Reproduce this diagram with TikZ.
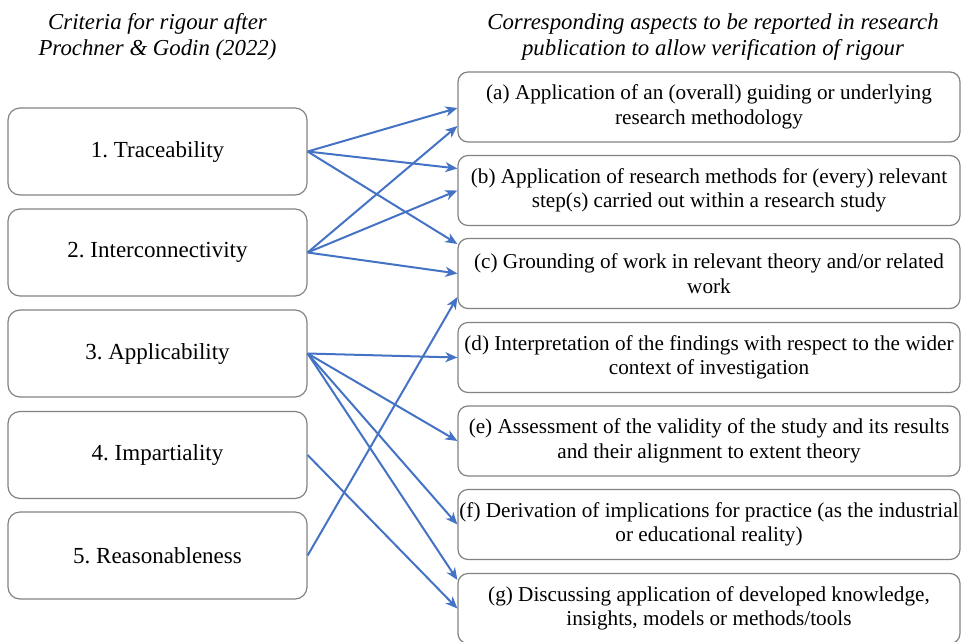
\documentclass[tikz,border=0pt]{standalone}
\usepackage{fontspec}
\setmainfont{Liberation Serif}
\definecolor{boxgray}{RGB}{130, 130, 130}
\definecolor{linkblue}{RGB}{68, 114, 196}
\usetikzlibrary{arrows.meta}

\begin{document}
\frenchspacing
\begin{tikzpicture}[x=1pt, y=-1pt,
  criterion/.style={draw=boxgray, line width=1.2pt, rounded corners=12pt, minimum width=299pt, minimum height=87pt, inner sep=0pt, font=\fontsize{23}{26}\selectfont},
  aspect/.style={draw=boxgray, line width=1.2pt, rounded corners=10pt, minimum width=502pt, minimum height=70pt, inner sep=0pt, align=center, font=\fontsize{21.2}{24.5}\selectfont},
  heading/.style={anchor=north, inner sep=0pt, align=center, font=\fontsize{22.8}{26}\selectfont\itshape},
  link/.style={-{Stealth[length=12pt, width=10pt, inset=3.5pt]}, line width=2pt, linkblue},
]
  \useasboundingbox (0,0) rectangle (962,641);

  % Headings
  \node[heading] (lhead) at (157.5, 13) {Criteria for rigour after\\Prochner \& Godin (2022)};
  \node[heading] (rhead) at (713, 13) {Corresponding aspects to be reported in research\\publication to allow verification of rigour};

  % Criteria
  \node[criterion] (t1) at (157.5, 151.5) {1. Traceability};
  \node[criterion] (t2) at (157.5, 252.5) {2. Interconnectivity};
  \node[criterion] (t3) at (157.5, 353.5) {3. Applicability};
  \node[criterion] (t4) at (157.5, 455) {4. Impartiality};
  \node[criterion] (t5) at (157.5, 555.5) {5. Reasonableness};

  % Aspects
  \node[aspect] (a) at (709, 107) {(a) Application of an (overall) guiding or underlying\\research methodology};
  \node[aspect] (b) at (709, 190.5) {(b) Application of research methods for (every) relevant\\step(s) carried out within a research study};
  \node[aspect] (c) at (709, 273.5) {(c) Grounding of work in relevant theory and/or related\\work};
  \node[aspect] (d) at (709, 357.5) {(d) Interpretation of the findings with respect to the wider\\context of investigation};
  \node[aspect] (e) at (709, 441) {(e) Assessment of the validity of the study and its results\\and their alignment to extent theory};
  \node[aspect] (f) at (709, 524.5) {(f) Derivation of implications for practice (as the industrial\\or educational reality)};
  \node[aspect] (g) at (709, 608.5) {(g) Discussing application of developed knowledge,\\insights, models or methods/tools};

  % Arrows
  \draw[link] (t1.east) -- ([yshift=-1pt]a.west);
  \draw[link] (t1.east) -- ([yshift=22pt]b.west);
  \draw[link] (t1.east) -- ([yshift=29.5pt]c.west);
  \draw[link] (t2.east) -- ([yshift=-19pt]a.west);
  \draw[link] (t2.east) -- (b.west);
  \draw[link] (t2.east) -- (c.west);
  \draw[link] (t3.east) -- (d.west);
  \draw[link] (t3.east) -- (e.west);
  \draw[link] (t3.east) -- (f.west);
  \draw[link] (t3.east) -- ([yshift=28.5pt]g.west);
  \draw[link] (t4.east) -- (g.west);
  \draw[link] (t5.east) -- ([yshift=-23.5pt]c.west);
\end{tikzpicture}
\end{document}
